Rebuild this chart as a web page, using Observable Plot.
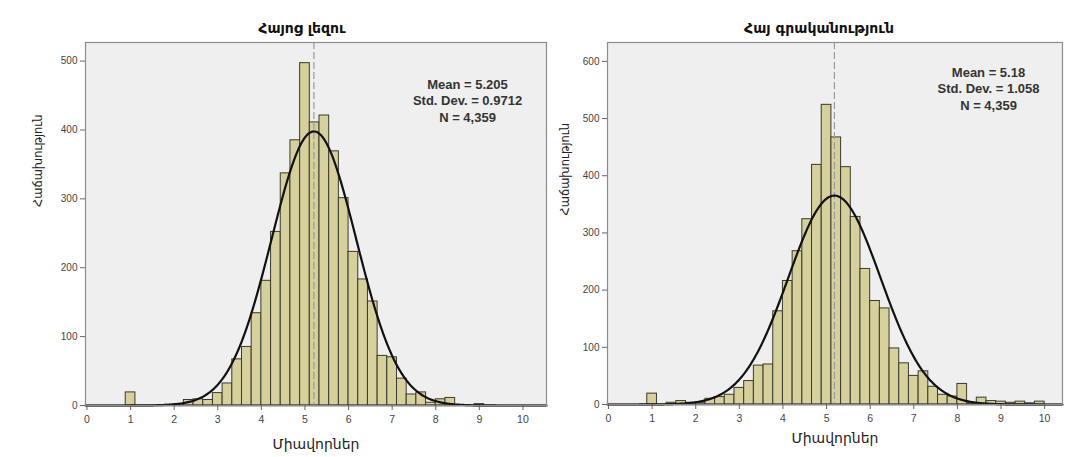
<!DOCTYPE html>
<html>
<head>
<meta charset="utf-8">
<script src="https://cdn.jsdelivr.net/npm/d3@7"></script>
<script src="https://cdn.jsdelivr.net/npm/@observablehq/plot@0.6"></script>
<style>
  body { margin: 0; background: #fff; }
  #wrap { position: relative; width: 1068px; height: 457px; overflow: hidden; }
  #left { position: absolute; left: 0; top: 0; }
  #right { position: absolute; left: 550px; top: 0; }
</style>
</head>
<body>
<div id="wrap"><div id="left"></div><div id="right"></div></div>
<script>
// ---- data ----
const binStart = 1;            // centre of first bin
const binWidth = 2 / 9;        // bin width (units)
const xTicks = [0, 1, 2, 3, 4, 5, 6, 7, 8, 9, 10];

const leftTitle = "Հայոց լեզու";
const leftCounts = [19, 0, 0, 0, 1, 2, 8, 9, 8, 18, 32, 67, 85, 134, 181, 252, 337, 385, 497, 411,
                    421, 369, 301, 223, 183, 151, 72, 70, 39, 16, 19, 4, 9, 11, 0, 0, 2, 0, 0, 0, 0];
const leftMean = 5.205, leftSD = 0.9712, leftN = 4359;
const leftStats = ["Mean = 5.205", "Std. Dev. = 0.9712", "N = 4,359"];
const leftYTicks = [0, 100, 200, 300, 400, 500];

const rightTitle = "Հայ գրականություն";
const rightCounts = [19, 0, 3, 6, 3, 3, 10, 13, 17, 29, 41, 68, 70, 163, 216, 268, 324, 419, 524, 467,
                     415, 328, 237, 181, 168, 98, 72, 50, 58, 31, 17, 14, 36, 2, 12, 6, 5, 3, 5, 2, 5];
const rightMean = 5.18, rightSD = 1.058, rightN = 4359;
const rightStats = ["Mean = 5.18", "Std. Dev. = 1.058", "N = 4,359"];
const rightYTicks = [0, 100, 200, 300, 400, 500, 600];

const xLabel = "Միավորներ";
const yLabel = "Հաճախություն";

// ---- styling ----
const numFont = "'Liberation Sans Narrow', 'Liberation Sans', Arial, sans-serif";
const armFont = "'DejaVu Sans', sans-serif";
const barFill = "#d6d19c";
const barStroke = "#3a3a2c";

function bins(counts) {
  return counts.map((c, i) => {
    const center = binStart + i * binWidth;
    return { x1: center - binWidth / 2, x2: center + binWidth / 2, count: c };
  });
}
function normalCurve(mean, sd, n, domain) {
  const k = n * binWidth / (sd * Math.sqrt(2 * Math.PI));
  const pts = [];
  const steps = 400;
  for (let i = 0; i <= steps; i++) {
    const x = domain[0] + (domain[1] - domain[0]) * i / steps;
    pts.push({ x, y: k * Math.exp(-0.5 * ((x - mean) / sd) ** 2) });
  }
  return pts;
}

function chart(o) {
  return Plot.plot({
    width: o.width, height: 457,
    marginTop: 42, marginBottom: o.marginBottom, marginLeft: o.marginLeft, marginRight: o.marginRight,
    style: { fontFamily: numFont, fontSize: "10px", background: "transparent", color: "#444", overflow: "visible" },
    x: { domain: o.xDomain },
    y: { domain: o.yDomain },
    marks: [
      Plot.frame({ fill: "#efefef", stroke: null }),
      Plot.rectY(bins(o.counts), { x1: "x1", x2: "x2", y: "count", fill: barFill, stroke: barStroke, strokeWidth: 1 }),
      Plot.ruleX([o.mean], { stroke: "#9a9a9a", strokeWidth: 1.2, strokeDasharray: "7,3" }),
      Plot.line(normalCurve(o.mean, o.sd, o.n, o.xDomain), { x: "x", y: "y", stroke: "#111", strokeWidth: 2.2, curve: "linear" }),
      Plot.ruleY([0], { stroke: "#111", strokeWidth: 1.5 }),
      Plot.frame({ stroke: "#8c8c8c", strokeWidth: 1.2 }),
      Plot.axisX({ ticks: xTicks, tickSize: 5, tickPadding: 5, stroke: "#666", fill: "#444", fontSize: 10.5, label: null }),
      Plot.axisY({ ticks: o.yTicks, tickSize: 5, tickPadding: 3, stroke: "#666", fill: "#444", fontSize: 10, label: null }),
      Plot.text([o.stats.join("\n")], {
        frameAnchor: "top-right", textAnchor: "middle", lineAnchor: "top", lineHeight: 1.25,
        dx: o.statsDx, dy: o.statsDy, fontSize: 13, fontWeight: "bold", fill: "#333", fontFamily: "'Liberation Sans', Arial, sans-serif"
      }),
      Plot.text([o.title], { frameAnchor: "top", dx: o.titleDx, dy: -19, fontSize: 14, fontWeight: "bold", fill: "#111", fontFamily: armFont }),
      Plot.text([xLabel], { frameAnchor: "bottom", dy: o.xLabelDy, fontSize: 14, fill: "#222", fontFamily: armFont }),
      Plot.text([yLabel], { frameAnchor: "left", rotate: -90, dx: o.yLabelDx, dy: o.yLabelDy, fontSize: 11.5, fill: "#222", fontFamily: armFont })
    ]
  });
}

document.getElementById("left").appendChild(chart({
  width: 550, marginBottom: 52, marginLeft: 85, marginRight: 4,
  xDomain: [-0.034, 10.54], yDomain: [0, 527],
  counts: leftCounts, mean: leftMean, sd: leftSD, n: leftN, stats: leftStats, yTicks: leftYTicks,
  title: leftTitle, titleDx: -14, statsDx: -79, statsDy: 35, xLabelDy: 43, yLabelDx: -47, yLabelDy: -17
}));
document.getElementById("right").appendChild(chart({
  width: 518, marginBottom: 53, marginLeft: 57, marginRight: 6,
  xDomain: [-0.023, 10.41], yDomain: [0, 633],
  counts: rightCounts, mean: rightMean, sd: rightSD, n: rightN, stats: rightStats, yTicks: rightYTicks,
  title: rightTitle, titleDx: -16, statsDx: -74, statsDy: 23, xLabelDy: 38, yLabelDx: -42, yLabelDy: -8
}));
</script>
</body>
</html>
